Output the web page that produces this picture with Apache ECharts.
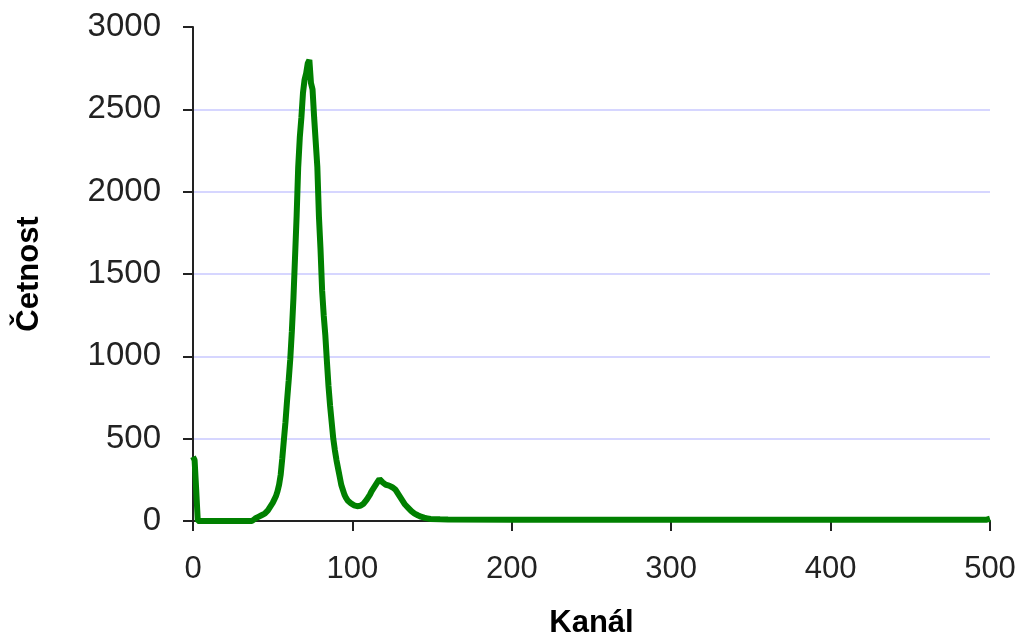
<!DOCTYPE html>
<html lang="cs">
<head>
    <meta charset="UTF-8">
    <title>Četnost / Kanál</title>
    <script src="https://cdn.jsdelivr.net/npm/echarts@6/dist/echarts.min.js"></script>
    <style>
        html, body { margin: 0; padding: 0; background: #fff; }
    </style>
</head>
<body>
<div id="histogram" style="width: 1026px;height:642px;"></div>
<script type="text/javascript">
    // channel numbers and counts (flat stretches kept as end points)
    var channels = [0, 1, 2, 3, 37, 38, 39, 40, 41, 42, 43, 44, 45, 46, 47, 48, 49,
        50, 51, 52, 53, 54, 55, 56, 57, 58, 59, 60, 61, 62, 63, 64, 65, 66, 67, 68, 69,
        70, 71, 72, 73, 74, 75, 76, 77, 78, 79, 80, 81, 82, 83, 84, 85, 86, 87, 88, 89,
        90, 91, 92, 93, 94, 95, 96, 97, 98, 99, 100, 101, 102, 103, 104, 105, 106, 107, 108, 109,
        110, 111, 112, 113, 114, 115, 116, 117, 118, 119, 120, 121, 122, 123, 124, 125, 126, 127, 128, 129,
        130, 131, 132, 133, 134, 135, 136, 137, 138, 139, 140, 141, 142, 143, 144, 145, 146, 147, 148, 149,
        150, 155, 160, 200, 300, 400, 498, 500];
    var counts = [390, 370, 190, 0, 0, 5, 15, 20, 25, 30, 35, 40, 45, 55, 65, 80, 95,
        110, 130, 150, 180, 220, 280, 380, 490, 600, 730, 850, 980, 1150, 1350, 1600, 1850, 2150, 2330, 2450, 2600,
        2680, 2720, 2780, 2800, 2660, 2620, 2450, 2300, 2150, 1850, 1650, 1400, 1250, 1130, 970, 820, 700, 600, 500, 430,
        370, 320, 270, 220, 190, 160, 140, 125, 115, 108, 100, 95, 92, 90, 90, 92, 95, 105, 115, 130,
        145, 160, 180, 195, 210, 225, 240, 255, 250, 235, 225, 220, 215, 215, 210, 205, 200, 190, 175, 160,
        145, 130, 115, 100, 90, 80, 70, 60, 52, 45, 40, 35, 30, 26, 22, 20, 18, 16, 14, 12,
        11, 10, 9, 8, 8, 8, 8, 14];
    var xTicks = [0, 100, 200, 300, 400, 500];
    var yTicks = [0, 500, 1000, 1500, 2000, 2500, 3000];

    var chart = echarts.init(document.getElementById('histogram'));

    var points = channels.map(function (c, i) { return [c, counts[i]]; });

    var option = {
        animation: false,
        backgroundColor: '#fff',
        textStyle: {fontFamily: 'Liberation Sans, Arial, sans-serif'},
        grid: {left: 193, right: 36, top: 27, bottom: 121, outerBoundsMode: 'none'},
        xAxis: {
            type: 'value',
            min: xTicks[0],
            max: xTicks[xTicks.length - 1],
            interval: 100,
            name: 'Kanál',
            nameLocation: 'middle',
            nameGap: 87,
            nameTextStyle: {fontSize: 31, fontWeight: 'bold', color: '#000'},
            axisLine: {onZero: false, lineStyle: {color: '#222', width: 2}},
            axisTick: {show: true, length: 10, lineStyle: {color: '#222', width: 2}},
            axisLabel: {fontSize: 31, color: '#222', margin: 33, formatter: function (v) { return String(v); }},
            splitLine: {show: false}
        },
        yAxis: {
            type: 'value',
            min: yTicks[0],
            max: yTicks[yTicks.length - 1],
            interval: 500,
            name: 'Četnost',
            nameLocation: 'middle',
            nameGap: 148,
            nameRotate: 90,
            nameTextStyle: {fontSize: 31, fontWeight: 'bold', color: '#000'},
            axisLine: {show: true, lineStyle: {color: '#222', width: 2}},
            axisTick: {show: true, length: 10, lineStyle: {color: '#222', width: 2}},
            axisLabel: {fontSize: 33, color: '#222', margin: 32, formatter: function (v) { return String(v); }},
            splitLine: {
                show: true,
                lineStyle: {
                    color: ['rgba(0,0,0,0)', '#c8c8ff', '#c8c8ff', '#c8c8ff', '#c8c8ff', '#c8c8ff', 'rgba(0,0,0,0)'],
                    width: 1.5
                }
            }
        },
        series: [
            {
                name: 'Četnost',
                type: 'line',
                data: points,
                showSymbol: false,
                symbol: 'none',
                lineStyle: {color: '#008000', width: 6},
                z: 3
            }
        ]
    };

    chart.setOption(option);
</script>
</body>
</html>
